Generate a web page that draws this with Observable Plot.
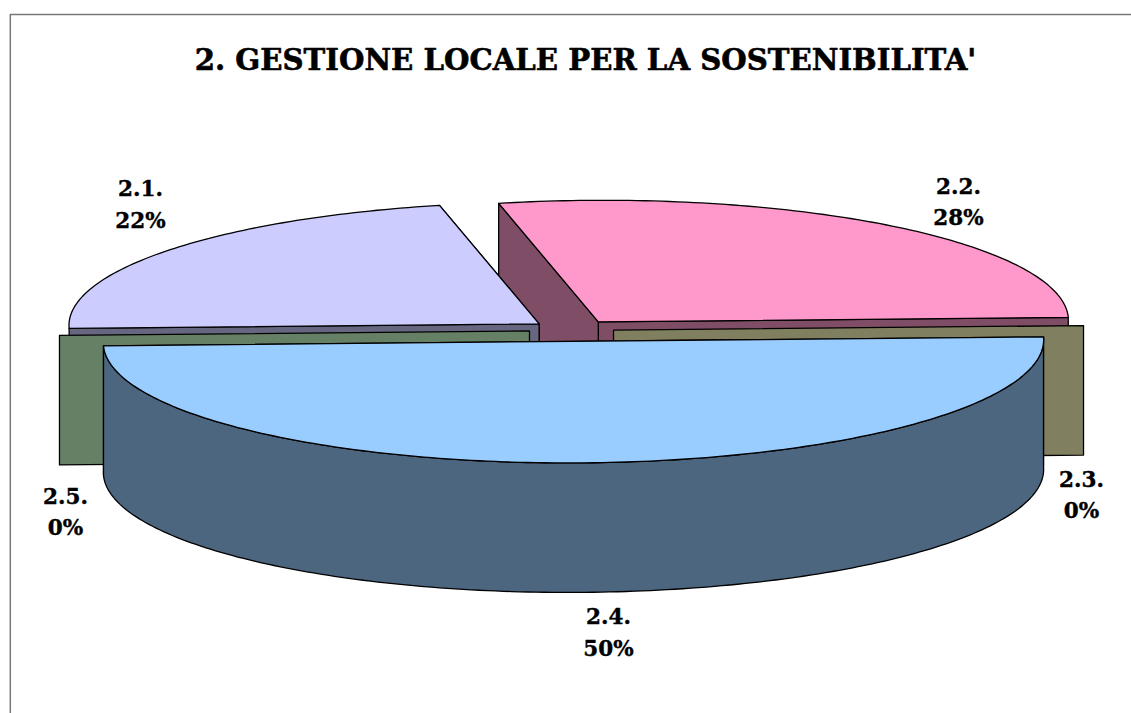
<!DOCTYPE html>
<html>
<head>
<meta charset="utf-8">
<script src="https://cdn.jsdelivr.net/npm/d3@7"></script>
<script src="https://cdn.jsdelivr.net/npm/@observablehq/plot@0.6"></script>
<style>
html,body{margin:0;padding:0;background:#fff;overflow:hidden}
svg{display:block}
</style>
</head>
<body>
<script>
// Data
const titleText = "2. GESTIONE LOCALE PER LA SOSTENIBILITA'";
const sliceNames = ["2.1.", "2.2.", "2.3.", "2.4.", "2.5."];
const sliceShares = [22, 28, 0, 50, 0];
const topColors = ["#CCCCFF", "#FF99CC", "#FFFFCC", "#99CCFF", "#CCFFCC"];
const wallColors = ["#666680", "#804D66", "#808060", "#4D6680", "#668066"];

// Layout of the tilted pie (pixels of the picture)
const W = 1131, H = 713;
const cx = 571, cy = 330, rx = 470, ry = 121.5;
const depth = 129.5 / ry, explode = 0.0894, tilt = 0.0096 * rx / ry, lean = 0.025;
const nudge = [0, 0, 0, 2 / rx, 0];
const labelAt = [[140, 201.5], [958, 199], [1081, 492], [608, 629.5], [65, 509]];
const ux = px => (px - cx) / rx, uy = py => (cy - py) / ry;

const rad = d => d * Math.PI / 180;
const starts = d3.cumsum([0, ...sliceShares]);

const slices = sliceNames.map((name, i) => {
  const a0 = 180 - 3.6 * starts[i], a1 = 180 - 3.6 * starts[i + 1];
  const mid = rad((a0 + a1) / 2);
  return {
    name, share: sliceShares[i], top: topColors[i], wall: wallColors[i], a0, a1,
    ex: explode * Math.cos(mid) + nudge[i], ey: explode * Math.sin(mid)
  };
});

const point = (s, X, Y, z = 0) => {
  const x = s.ex + X - lean * Y;
  return {x, y: s.ey + Y + tilt * (s.ex + X) - z};
};
const rim = (s, a) => point(s, Math.cos(rad(a)), Math.sin(rad(a)));
const rimLow = (s, a) => point(s, Math.cos(rad(a)), Math.sin(rad(a)), depth);
const arcAngles = (a, b) => {
  const n = Math.max(1, Math.ceil(Math.abs(a - b)));
  return d3.range(n + 1).map(k => a + (b - a) * k / n);
};
const close = pts => [...pts, pts[0]];

const face = (s, a) => close([point(s, 0, 0), rim(s, a), rimLow(s, a), point(s, 0, 0, depth)]);
const topFace = s => close([point(s, 0, 0), ...arcAngles(s.a0, s.a1).map(a => rim(s, a))]);
const frontWall = s => {
  const lo = Math.max(s.a1, -180), hi = Math.min(s.a0, 0);
  if (hi <= lo) return null;
  const as = arcAngles(hi, lo);
  return close([...as.map(v => rim(s, v)), ...as.slice().reverse().map(v => rimLow(s, v))]);
};

const poly = (pts, fill) => Plot.line(pts, {
  x: "x", y: "y", fill, stroke: "#000", strokeWidth: 1.3,
  strokeLinejoin: "round", curve: "linear"
});

const order = d3.range(slices.length).sort((p, q) => slices[q].ey - slices[p].ey);
const pieMarks = order.flatMap(i => {
  const s = slices[i];
  if (s.share === 0) return [poly(face(s, s.a0), s.wall)];
  const marks = [poly(face(s, s.a1), s.wall), poly(face(s, s.a0), s.wall)];
  const fw = frontWall(s);
  if (fw) marks.push(poly(fw, s.wall));
  marks.push(poly(topFace(s), s.top));
  return marks;
});

const fontFamily = "'DejaVu Serif', serif";
const labels = slices.map((s, i) => ({
  x: ux(labelAt[i][0]), y: uy(labelAt[i][1]), text: `${s.name}\n${s.share}%`
}));

const chart = Plot.plot({
  width: W, height: H,
  marginTop: 0, marginRight: 0, marginBottom: 0, marginLeft: 0,
  x: {domain: [ux(0), ux(W)], range: [0, W], axis: null},
  y: {domain: [uy(H), uy(0)], range: [H, 0], axis: null},
  style: {background: "#fff"},
  marks: [
    Plot.line([{x: ux(9.8), y: uy(H)}, {x: ux(9.8), y: uy(14)}, {x: ux(W), y: uy(14)}], {
      x: "x", y: "y", stroke: "#777", strokeWidth: 1.5
    }),
    ...pieMarks,
    Plot.text([{x: ux(585), y: uy(60.5), t: titleText}], {
      x: "x", y: "y", text: "t", fontFamily, fontWeight: "bold", fontSize: 29.2,
      fill: "#000", stroke: "#000", strokeWidth: 0.6
    }),
    Plot.text(labels, {
      x: "x", y: "y", text: "text", fontFamily, fontWeight: "bold", fontSize: 21.5,
      lineHeight: 1.45, fill: "#000", stroke: "#000", strokeWidth: 0.4
    })
  ]
});
document.body.appendChild(chart);
</script>
</body>
</html>
